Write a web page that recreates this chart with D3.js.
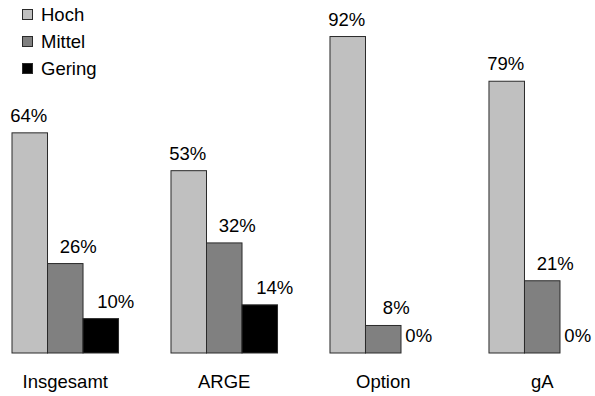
<!DOCTYPE html>
<html>
<head>
<meta charset="utf-8">
<script src="https://cdn.jsdelivr.net/npm/d3@7"></script>
<style>
  html, body { margin: 0; padding: 0; background: #fff; }
  svg { display: block; font-family: "Liberation Sans", Arial, sans-serif; }
</style>
</head>
<body>
<svg id="chart" width="595" height="396"></svg>
<script>
// Grouped bar chart: rating shares per group
const categories = ["Insgesamt", "ARGE", "Option", "gA"];
const seriesNames = ["Hoch", "Mittel", "Gering"];
const hoch   = [64, 53, 92, 79];
const mittel = [26, 32, 8, 21];
const gering = [10, 14, 0, 0];
const seriesValues = [hoch, mittel, gering];
const colors = ["#c0c0c0", "#808080", "#000000"];

const svg = d3.select("#chart");
const baseline = 353;
const fontSize = 18.5;
// horizontal nudge of value labels per series (labels of non-zero bars)
const labelShift = { Hoch: -1, Mittel: 13, Gering: 15 };

const x0 = d3.scaleBand()
  .domain(categories)
  .range([12, 595.5])
  .paddingInner(0.33)
  .paddingOuter(0);

const x1 = d3.scaleBand()
  .domain(seriesNames)
  .range([0, x0.bandwidth()])
  .padding(0);

const y = d3.scaleLinear()
  .domain([0, 100])
  .range([baseline, baseline - 344]);

const color = d3.scaleOrdinal().domain(seriesNames).range(colors);

const rows = categories.map((c, i) => ({
  category: c,
  values: seriesNames.map((s, j) => ({ series: s, value: seriesValues[j][i] }))
}));

const groups = svg.selectAll("g.group")
  .data(rows)
  .join("g")
  .attr("class", "group")
  .attr("transform", d => `translate(${x0(d.category)},0)`);

groups.selectAll("rect")
  .data(d => d.values.filter(v => v.value > 0))
  .join("rect")
  .attr("x", d => x1(d.series))
  .attr("y", d => y(d.value))
  .attr("width", x1.bandwidth())
  .attr("height", d => y(0) - y(d.value))
  .attr("fill", d => color(d.series))
  .attr("stroke", "#2a2a2a")
  .attr("stroke-width", 1);

groups.selectAll("text.value")
  .data(d => d.values)
  .join("text")
  .attr("class", "value")
  .attr("x", d => x1(d.series) + x1.bandwidth() / 2 + (d.value > 0 ? labelShift[d.series] : 0))
  .attr("y", d => y(d.value) - 11)
  .attr("text-anchor", "middle")
  .attr("font-size", fontSize)
  .attr("fill", "#000")
  .text(d => d.value + "%");

// Category axis labels
const xAxis = d3.axisBottom(x0).tickSize(0).tickPadding(0);
const axisG = svg.append("g")
  .attr("transform", `translate(0,${baseline + 35})`)
  .call(xAxis);
axisG.select(".domain").remove();
axisG.selectAll("text")
  .attr("y", 0)
  .attr("dy", 0)
  .attr("font-size", fontSize)
  .attr("font-family", "Liberation Sans, Arial, sans-serif")
  .attr("fill", "#000");

// Legend
const legend = svg.append("g").attr("transform", "translate(22,9)");
const item = legend.selectAll("g")
  .data(seriesNames)
  .join("g")
  .attr("transform", (d, i) => `translate(0,${i * 27})`);
item.append("rect")
  .attr("x", 0.5).attr("y", 0.5)
  .attr("width", 10).attr("height", 10)
  .attr("fill", d => color(d))
  .attr("stroke", "#2a2a2a");
item.append("text")
  .attr("x", 19)
  .attr("y", 12)
  .attr("font-size", fontSize)
  .attr("fill", "#000")
  .text(d => d);
</script>
</body>
</html>
